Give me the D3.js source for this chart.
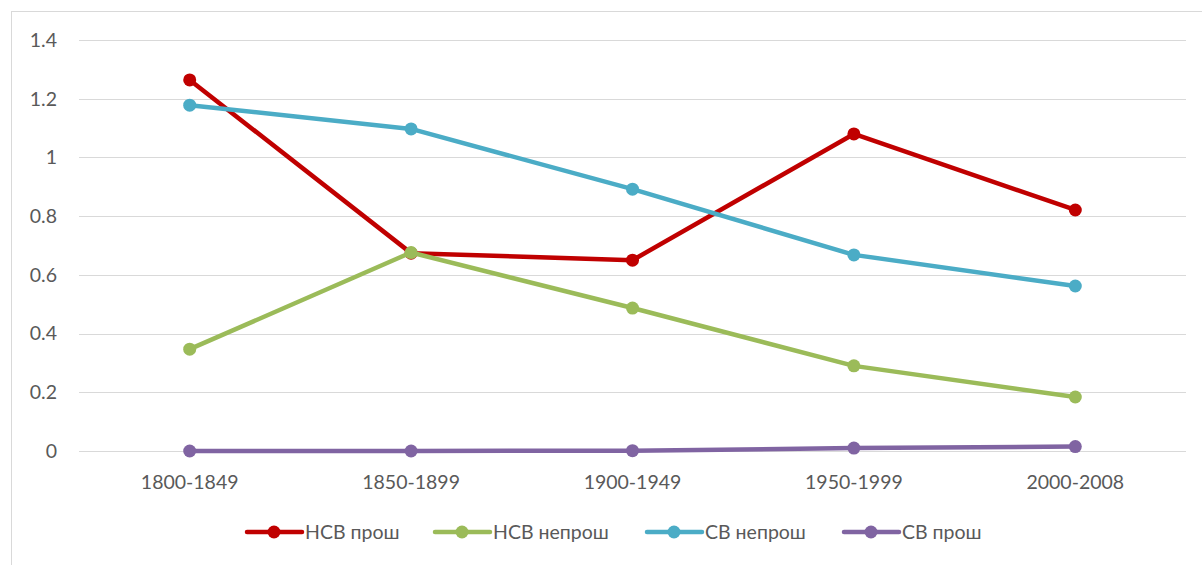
<!DOCTYPE html>
<html lang="ru">
<head>
<meta charset="UTF-8">
<title>НСВ / СВ</title>
<script src="https://d3js.org/d3.v7.min.js"></script>
<style>
  body { margin: 0; background: #fff; }
  text { font-family: Lato, "Open Sans", sans-serif; fill: #595959; }
</style>
</head>
<body>
<svg id="chart" width="1202" height="565"></svg>
<script>
// data
const periods = ["1800-1849", "1850-1899", "1900-1949", "1950-1999", "2000-2008"];
const nsvProsh   = [1.264, 0.674, 0.650, 1.080, 0.821];
const nsvNeprosh = [0.347, 0.676, 0.487, 0.290, 0.184];
const svNeprosh  = [1.178, 1.097, 0.892, 0.668, 0.562];
const svProsh    = [0.000, 0.000, 0.001, 0.010, 0.015];
const yTicks = [0, 0.2, 0.4, 0.6, 0.8, 1, 1.2, 1.4];

const series = [
  { name: "НСВ прош",   color: "#c00000", values: nsvProsh },
  { name: "НСВ непрош", color: "#9bbb59", values: nsvNeprosh },
  { name: "СВ непрош",  color: "#4bacc6", values: svNeprosh },
  { name: "СВ прош",    color: "#8064a2", values: svProsh }
];

const svg = d3.select("#chart");
const fs = 19.5;

// chart frame
svg.append("rect")
  .attr("x", 11.5).attr("y", 11.5)
  .attr("width", 1202).attr("height", 600)
  .attr("fill", "none").attr("stroke", "#d9d9d9");

const x = d3.scaleBand().domain(periods).range([79, 1186]);
const y = d3.scaleLinear().domain([0, 1.4]).range([451, 40]);

// grid
svg.append("g").selectAll("line")
  .data(yTicks).join("line")
  .attr("x1", 79).attr("x2", 1186)
  .attr("y1", d => Math.round(y(d)) + 0.5).attr("y2", d => Math.round(y(d)) + 0.5)
  .attr("stroke", "#d9d9d9").attr("stroke-width", 1.2);

// y labels
svg.append("g").selectAll("text")
  .data(yTicks).join("text")
  .attr("x", 57).attr("y", d => y(d))
  .attr("dy", "0.35em")
  .attr("text-anchor", "end")
  .attr("font-size", fs)
  .text(d => d3.format("")(d));

// x labels
svg.append("g").selectAll("text")
  .data(periods).join("text")
  .attr("x", d => x(d) + x.bandwidth() / 2)
  .attr("y", 482)
  .attr("dy", "0.35em")
  .attr("text-anchor", "middle")
  .attr("font-size", fs)
  .text(d => d);

const line = d3.line()
  .x((d, i) => x(periods[i]) + x.bandwidth() / 2)
  .y(d => y(d));

const g = svg.append("g").selectAll("g")
  .data(series).join("g");

g.append("path")
  .attr("d", d => line(d.values))
  .attr("fill", "none")
  .attr("stroke", d => d.color)
  .attr("stroke-width", 4.5)
  .attr("stroke-linejoin", "round");

g.selectAll("circle")
  .data(d => d.values.map((v, i) => ({ v, i, color: d.color })))
  .join("circle")
  .attr("cx", d => x(periods[d.i]) + x.bandwidth() / 2)
  .attr("cy", d => y(d.v))
  .attr("r", 6.5)
  .attr("fill", d => d.color);

// legend
const legendX = [247, 435, 647, 844];
const leg = svg.append("g").selectAll("g")
  .data(series).join("g")
  .attr("transform", (d, i) => `translate(${legendX[i]},532)`);

leg.append("line")
  .attr("x1", 0).attr("x2", 55)
  .attr("stroke", d => d.color)
  .attr("stroke-width", 4.5)
  .attr("stroke-linecap", "round");

leg.append("circle")
  .attr("cx", 27).attr("r", 6.5)
  .attr("fill", d => d.color);

leg.append("text")
  .attr("x", 58).attr("dy", "0.35em")
  .attr("font-size", fs)
  .text(d => d.name);
</script>
</body>
</html>
